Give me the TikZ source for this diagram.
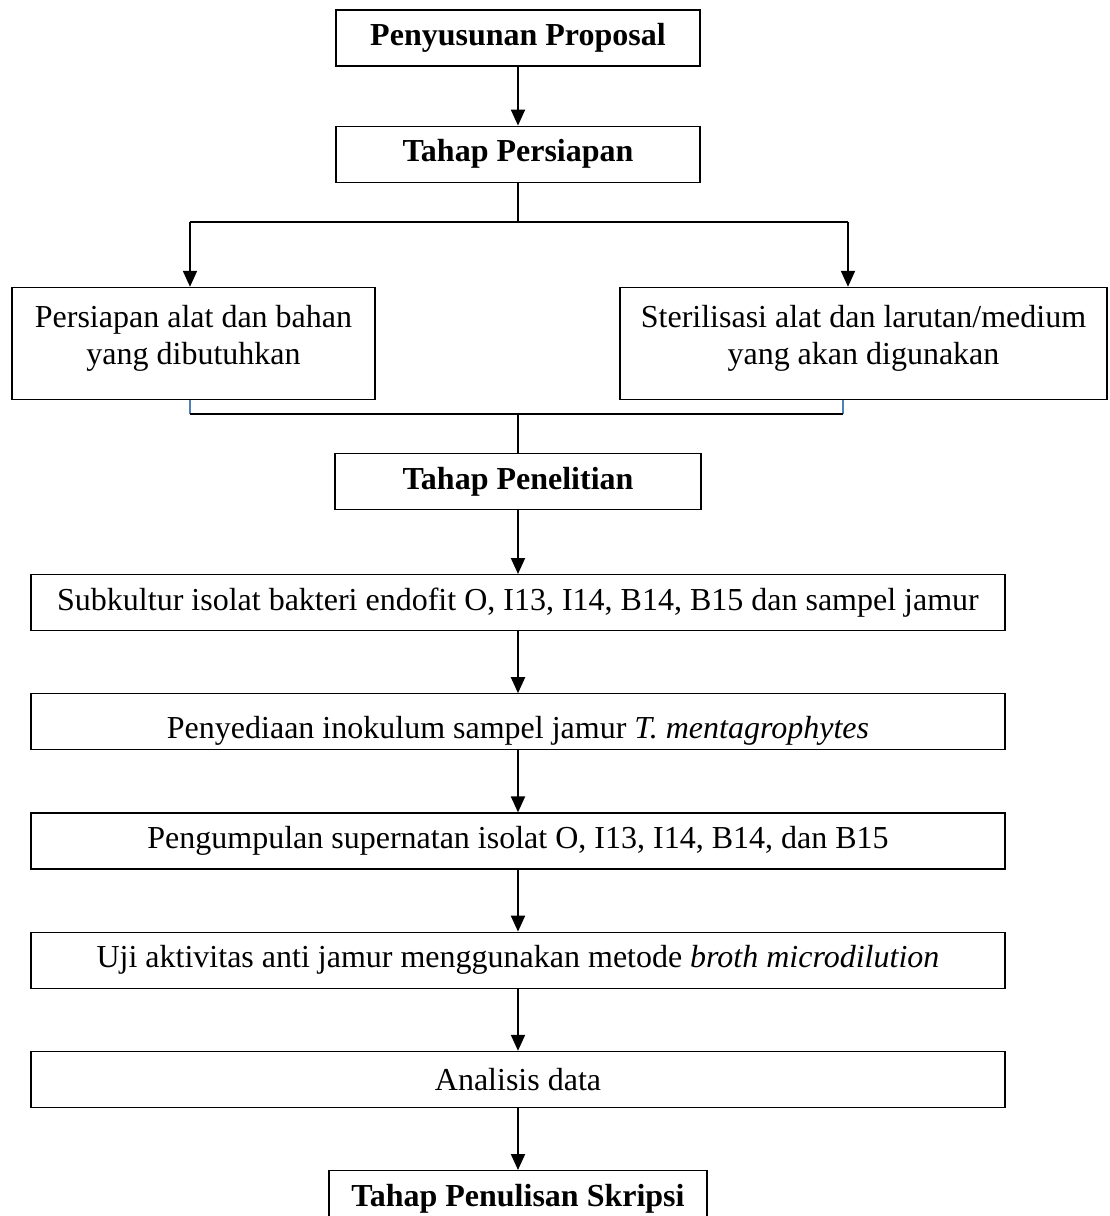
\documentclass[tikz,border=0pt]{standalone}
\usepackage{fontspec}
\setmainfont{Liberation Serif}
\usetikzlibrary{arrows.meta,positioning,calc}
\definecolor{wdblue}{HTML}{4F81BD}

\begin{document}
\begin{tikzpicture}[
      font=\fontsize{16}{18.5}\selectfont,
      node distance=31pt,
      box/.style={draw,line width=0.6pt,align=center,minimum height=28pt,inner sep=2pt,fill=white},
      stage/.style={box,font=\fontsize{16}{18.5}\selectfont\bfseries,minimum width=182pt},
      wide/.style={box,minimum width=487pt},
      arrow/.style={-{Triangle[length=8pt,width=7pt]},line width=1pt},
      branch/.style={line width=1pt},
      stub/.style={line width=0.8pt,draw=wdblue}
    ]
    \useasboundingbox (-259pt,19pt) rectangle (295.5pt,-589pt);
    \clip (-259pt,19pt) rectangle (295.5pt,-589pt);
    \node[stage] (prop) at (0,0) {Penyusunan Proposal};
    \node[stage,below=29.5pt of prop] (persiapan) {Tahap Persiapan};
    \node[box,minimum width=181.5pt,minimum height=56pt,text depth=9pt,below=52pt of persiapan,xshift=-162.25pt] (alat) {Persiapan alat dan bahan\\yang dibutuhkan};
    \node[box,minimum width=243.5pt,minimum height=56pt,text depth=9pt,below=52pt of persiapan,xshift=172.75pt] (steril) {Sterilisasi alat dan larutan/medium\\yang akan digunakan};
    \node[stage,minimum width=183pt,below=135pt of persiapan] (penelitian) {Tahap Penelitian};
    \node[wide,below=32pt of penelitian] (subkultur) {Subkultur isolat bakteri endofit O, I13, I14, B14, B15 dan sampel jamur};
    \node[wide,text height=17pt,text depth=0pt,below=of subkultur] (inokulum) {Penyediaan inokulum sampel jamur \textit{T. mentagrophytes}};
    \node[wide,below=of inokulum] (supernatan) {Pengumpulan supernatan isolat O, I13, I14, B14, dan B15};
    \node[wide,below=of supernatan] (uji) {Uji aktivitas anti jamur menggunakan metode \textit{broth microdilution}};
    \node[wide,below=of uji] (analisis) {Analisis data};
    \node[stage,minimum width=189pt,below=of analisis] (skripsi) {Tahap Penulisan Skripsi};
    \draw[arrow] (prop) -- (persiapan);
    \coordinate (split) at ($(persiapan.south)+(0,-19.5pt)$);
    \coordinate (splitL) at ($(split)+(-164pt,0)$);
    \coordinate (splitR) at ($(split)+(165pt,0)$);
    \draw[line width=0.8pt] (persiapan) -- (split);
    \draw[branch] (splitL) -- (splitR);
    \draw[arrow] (splitL) -- (splitL |- alat.north);
    \draw[arrow] (splitR) -- (splitR |- steril.north);
    \coordinate (joinL) at ($(splitL |- alat.south)+(0,-7pt)$);
    \coordinate (joinR) at ($(joinL)+(326.5pt,0)$);
    \draw[stub] (joinL |- alat.south) -- (joinL);
    \draw[stub] (joinR |- steril.south) -- (joinR);
    \draw[branch] (joinL) -- (joinR);
    \draw[line width=0.8pt] (joinL -| penelitian) -- (penelitian);
    \draw[arrow] (penelitian) -- (subkultur);
    \draw[arrow] (subkultur) -- (inokulum);
    \draw[arrow] (inokulum) -- (supernatan);
    \draw[arrow] (supernatan) -- (uji);
    \draw[arrow] (uji) -- (analisis);
    \draw[arrow] (analisis) -- (skripsi);
  \end{tikzpicture}
\end{document}
